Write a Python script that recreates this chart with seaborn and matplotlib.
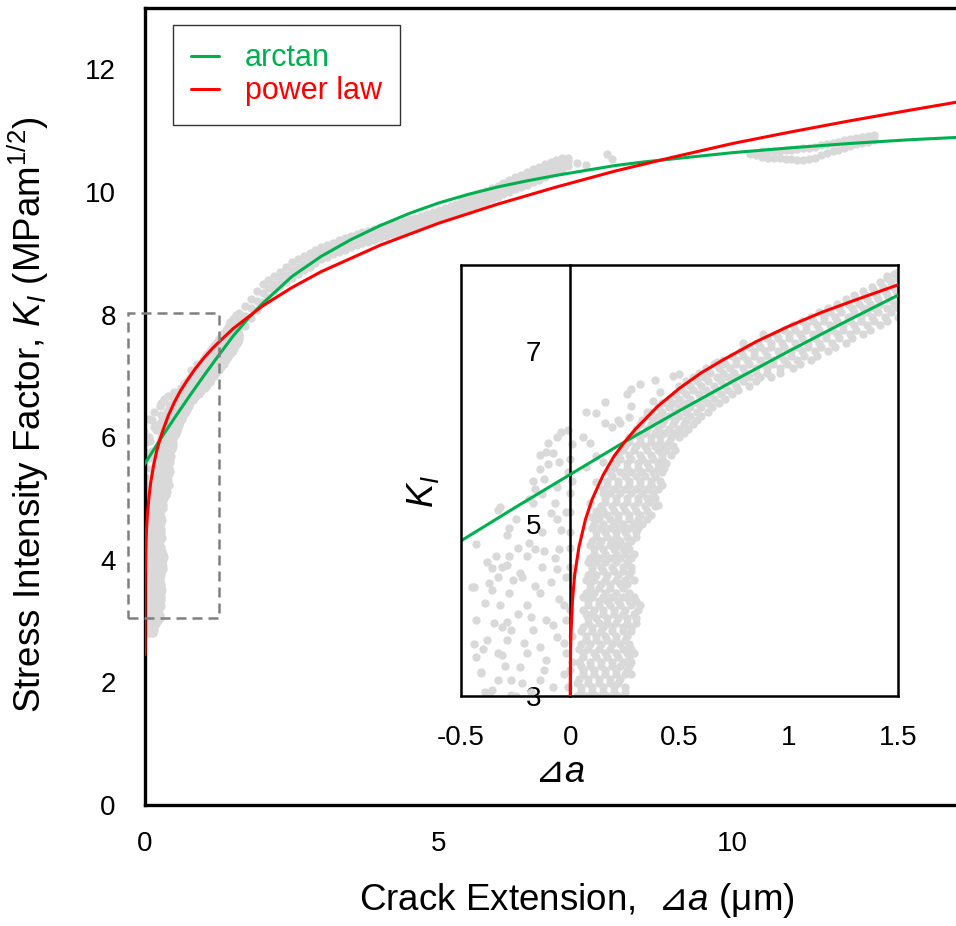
import matplotlib
matplotlib.use("Agg")
import matplotlib.pyplot as plt
import seaborn as sns
import pandas as pd
from matplotlib.patches import Rectangle
from matplotlib.ticker import FixedLocator

sns.set_theme(style="white")
plt.rcParams["font.family"] = ["Liberation Sans", "DejaVu Sans"]
plt.rcParams["mathtext.fontset"] = "custom"
plt.rcParams["mathtext.rm"] = "Liberation Sans"
plt.rcParams["mathtext.it"] = "Liberation Sans:italic"
plt.rcParams["mathtext.sf"] = "DejaVu Sans"
plt.rcParams["axes.unicode_minus"] = False
plt.rcParams["text.color"] = "black"
plt.rcParams["axes.labelcolor"] = "black"
plt.rcParams["xtick.color"] = "black"
plt.rcParams["ytick.color"] = "black"

# ---------------- data ----------------
# fitted curves
arctan_da = [-0.5, -0.25, 0, 0.25, 0.5, 0.75, 1.0, 1.25, 1.5, 1.75, 2.0, 2.5, 3.0, 3.5, 4.0,
             4.5, 5.0, 5.5, 6.0, 6.5, 7.0, 7.5, 8.0, 8.5, 9.0, 9.5, 10.0, 11.0, 12.0, 13.0, 13.85]
arctan_k = [4.80, 5.19, 5.57, 5.95, 6.31, 6.66, 7.00, 7.33, 7.65, 7.93, 8.18, 8.62, 8.95, 9.22, 9.45,
            9.65, 9.82, 9.96, 10.08, 10.18, 10.27, 10.35, 10.43, 10.49, 10.54, 10.59, 10.64, 10.72,
            10.79, 10.85, 10.89]

power_da = [0, 0.0002, 0.001, 0.003, 0.01, 0.02, 0.04, 0.07, 0.1, 0.15, 0.2, 0.25, 0.3, 0.4, 0.5,
            0.6, 0.7, 0.85, 1.0, 1.15, 1.3, 1.5, 2.0, 2.5, 3.0, 4.0, 5.0, 6.0, 7.0, 8.0, 9.0, 10.0,
            11.0, 12.0, 13.0, 13.85]
power_k = [2.45, 3.12, 3.42, 3.70, 4.10, 4.40, 4.73, 5.05, 5.28, 5.56, 5.78, 5.95, 6.10, 6.36, 6.57,
           6.75, 6.90, 7.11, 7.29, 7.45, 7.59, 7.77, 8.14, 8.44, 8.70, 9.13, 9.49, 9.80, 10.08, 10.34,
           10.57, 10.79, 10.98, 11.16, 11.33, 11.47]

# dense measured cloud just after crack initiation (rows of K levels)
cloud_k = [2.8, 2.9, 3.0, 3.1, 3.2, 3.3, 3.4, 3.5, 3.6, 3.7, 3.8, 3.9, 4.0, 4.1, 4.2, 4.3, 4.4, 4.5,
           4.6, 4.7, 4.8, 4.9, 5.0, 5.1, 5.2, 5.3, 5.4, 5.5, 5.6, 5.7, 5.8, 5.9, 6.0, 6.1, 6.2, 6.3,
           6.4, 6.5, 6.6, 6.7, 6.8, 6.9, 7.0, 7.1, 7.2, 7.3, 7.4, 7.5, 7.6, 7.7, 7.8, 7.9, 8.0]
cloud_da = [
    [0.03, 0.08, 0.13],
    [0.05, 0.10, 0.15],
    [0.03, 0.07, 0.12, 0.17, 0.22],
    [0.05, 0.10, 0.15, 0.20, 0.25],
    [0.04, 0.08, 0.13, 0.18, 0.23],
    [0.06, 0.11, 0.16, 0.21, 0.26],
    [0.04, 0.09, 0.14, 0.19, 0.24, 0.28],
    [0.06, 0.11, 0.16, 0.21, 0.26, 0.29],
    [0.05, 0.09, 0.14, 0.19, 0.23, 0.27],
    [0.07, 0.12, 0.16, 0.21, 0.26],
    [0.06, 0.10, 0.15, 0.19, 0.24, 0.28],
    [0.08, 0.12, 0.17, 0.22, 0.26, 0.30],
    [0.06, 0.11, 0.15, 0.20, 0.25, 0.31],
    [0.08, 0.13, 0.17, 0.22, 0.27, 0.30],
    [0.07, 0.11, 0.16, 0.21, 0.27],
    [0.09, 0.14, 0.18, 0.23, 0.26],
    [0.08, 0.12, 0.17, 0.22, 0.27],
    [0.10, 0.14, 0.19, 0.24, 0.28],
    [0.09, 0.13, 0.18, 0.23, 0.28],
    [0.11, 0.15, 0.20, 0.24, 0.27],
    [0.10, 0.14, 0.19, 0.23, 0.28],
    [0.12, 0.16, 0.21, 0.25, 0.30],
    [0.11, 0.15, 0.20, 0.24, 0.29, 0.33],
    [0.13, 0.17, 0.22, 0.27, 0.32, 0.37],
    [0.14, 0.19, 0.24, 0.29, 0.34, 0.39],
    [0.16, 0.21, 0.26, 0.31, 0.35, 0.39],
    [0.15, 0.20, 0.25, 0.30, 0.35, 0.40],
    [0.17, 0.22, 0.27, 0.32, 0.37, 0.41],
    [0.18, 0.23, 0.28, 0.33, 0.38, 0.42],
    [0.21, 0.26, 0.31, 0.35, 0.40, 0.44],
    [0.22, 0.27, 0.32, 0.37, 0.42, 0.46],
    [0.25, 0.30, 0.34, 0.39, 0.43, 0.47],
    [0.27, 0.32, 0.37, 0.41, 0.46, 0.50],
    [0.30, 0.35, 0.40, 0.45, 0.50, 0.54],
    [0.33, 0.38, 0.43, 0.48, 0.53, 0.58],
    [0.37, 0.42, 0.48, 0.53, 0.58, 0.63],
    [0.42, 0.47, 0.52, 0.58, 0.63, 0.68],
    [0.48, 0.53, 0.59, 0.64, 0.69, 0.74],
    [0.50, 0.55, 0.60, 0.66, 0.71, 0.76, 0.82],
    [0.56, 0.61, 0.67, 0.72, 0.77, 0.82, 0.87, 0.92],
    [0.62, 0.68, 0.73, 0.79, 0.85, 0.90, 0.96, 1.02],
    [0.70, 0.76, 0.81, 0.87, 0.93, 0.98, 1.04, 1.10],
    [0.78, 0.84, 0.89, 0.95, 1.01, 1.06, 1.12, 1.18],
    [0.86, 0.92, 0.97, 1.03, 1.09, 1.14, 1.20, 1.26],
    [0.94, 1.00, 1.05, 1.11, 1.17, 1.22, 1.28, 1.34],
    [1.02, 1.08, 1.13, 1.19, 1.25, 1.30, 1.36, 1.42],
    [1.10, 1.16, 1.21, 1.27, 1.33, 1.38, 1.44, 1.50],
    [1.18, 1.23, 1.29, 1.34, 1.39, 1.45, 1.50, 1.55],
    [1.26, 1.31, 1.36, 1.41, 1.46, 1.51, 1.56, 1.60],
    [1.34, 1.39, 1.44, 1.49, 1.54, 1.59],
    [1.42, 1.47, 1.52, 1.56, 1.60],
    [1.48, 1.53, 1.57, 1.61],
    [1.55, 1.60],
]

# second (staggered) set of rows in the same cloud
cloud2_k = [2.85, 2.95, 3.05, 3.15, 3.25, 3.35, 3.45, 3.55, 3.65, 3.75, 3.85, 3.95, 4.05, 4.15,
            4.25, 4.35, 4.45, 4.55, 4.65, 4.75, 4.85, 4.95, 5.05, 5.15, 5.25, 5.35, 5.45, 5.55,
            5.65, 5.75, 5.85, 5.95, 6.05, 6.15, 6.25, 6.35, 6.45, 6.55, 6.65, 6.75, 6.85, 6.95,
            7.05, 7.15, 7.25, 7.35, 7.45, 7.55, 7.65, 7.75, 7.85, 7.95]
cloud2_da = [
    [0.05, 0.10, 0.15],
    [0.04, 0.09, 0.14, 0.18],
    [0.05, 0.10, 0.15, 0.20, 0.25],
    [0.03, 0.08, 0.13, 0.18, 0.22],
    [0.06, 0.11, 0.16, 0.21, 0.25, 0.28],
    [0.05, 0.09, 0.14, 0.19, 0.23, 0.27],
    [0.06, 0.12, 0.17, 0.22, 0.27],
    [0.04, 0.08, 0.13, 0.18, 0.24, 0.28],
    [0.07, 0.12, 0.17, 0.21, 0.25],
    [0.05, 0.10, 0.14, 0.19, 0.24, 0.28],
    [0.08, 0.13, 0.17, 0.21, 0.26, 0.30],
    [0.07, 0.10, 0.15, 0.20, 0.24, 0.29],
    [0.08, 0.13, 0.18, 0.23, 0.28, 0.32],
    [0.06, 0.10, 0.15, 0.19, 0.24, 0.29],
    [0.09, 0.13, 0.18, 0.24],
    [0.07, 0.11, 0.16, 0.21, 0.25, 0.29],
    [0.10, 0.15, 0.20, 0.24, 0.28],
    [0.08, 0.12, 0.16, 0.21, 0.26],
    [0.11, 0.16, 0.21, 0.25, 0.29],
    [0.09, 0.13, 0.18, 0.22, 0.26],
    [0.12, 0.17, 0.21, 0.26, 0.30],
    [0.10, 0.14, 0.18, 0.23, 0.27, 0.31],
    [0.13, 0.18, 0.22, 0.27, 0.31, 0.35],
    [0.12, 0.15, 0.20, 0.25, 0.30, 0.35],
    [0.16, 0.21, 0.26, 0.31, 0.36],
    [0.15, 0.18, 0.23, 0.28, 0.33, 0.38],
    [0.17, 0.22, 0.27, 0.32, 0.37, 0.42],
    [0.19, 0.25, 0.30, 0.34, 0.39],
    [0.20, 0.26, 0.31, 0.36, 0.40, 0.43],
    [0.23, 0.28, 0.33, 0.38, 0.42],
    [0.24, 0.29, 0.35, 0.40, 0.44, 0.48],
    [0.27, 0.32, 0.37, 0.41, 0.45],
    [0.29, 0.34, 0.39, 0.43, 0.48, 0.52],
    [0.32, 0.37, 0.42, 0.47, 0.52, 0.56],
    [0.35, 0.40, 0.45, 0.50, 0.55, 0.60],
    [0.40, 0.45, 0.50, 0.55, 0.60, 0.65],
    [0.45, 0.50, 0.55, 0.61, 0.66, 0.71],
    [0.51, 0.56, 0.62, 0.67, 0.72, 0.77],
    [0.53, 0.58, 0.63, 0.69, 0.74, 0.79, 0.85],
    [0.59, 0.64, 0.70, 0.75, 0.80, 0.85, 0.90, 0.96],
    [0.66, 0.71, 0.76, 0.82, 0.88, 0.93, 0.99, 1.05],
    [0.74, 0.79, 0.84, 0.90, 0.96, 1.01, 1.07, 1.13],
    [0.82, 0.87, 0.92, 0.98, 1.04, 1.09, 1.15, 1.21],
    [0.90, 0.95, 1.00, 1.06, 1.12, 1.17, 1.23, 1.29],
    [0.98, 1.03, 1.08, 1.14, 1.20, 1.25, 1.31, 1.37],
    [1.06, 1.11, 1.16, 1.22, 1.28, 1.33, 1.39, 1.45],
    [1.14, 1.19, 1.24, 1.30, 1.36, 1.41, 1.47, 1.52],
    [1.22, 1.27, 1.32, 1.37, 1.42, 1.48, 1.53, 1.58],
    [1.30, 1.35, 1.40, 1.45, 1.50, 1.55, 1.60],
    [1.38, 1.43, 1.48, 1.53, 1.58],
    [1.45, 1.50, 1.55, 1.60],
    [1.52, 1.57],
]

# scattered points (negative apparent extension and outliers)
scatter_da = [-0.43, -0.44, -0.43, -0.43, -0.41, -0.37, -0.36, -0.33, -0.33, -0.31, -0.28, -0.28,
              -0.29, -0.31, -0.29, -0.33, -0.27, -0.27, -0.33, -0.36, -0.23, -0.20, -0.22, -0.20,
              -0.19, -0.25, -0.17, -0.16, -0.14, -0.11, -0.10, -0.06, -0.04, -0.01, -0.13, -0.13,
              -0.14, -0.11, -0.14, -0.11, -0.14, -0.08, -0.06, -0.05, -0.06, -0.05, -0.06, -0.06,
              -0.05, -0.02, -0.02, -0.02, -0.01, -0.02, -0.39, -0.38, -0.23, -0.17, -0.20, -0.25,
              -0.32, -0.28, -0.17, -0.14, -0.10, -0.13, -0.07, 0.00, 0.00, 0.00, -0.37, -0.27,
              -0.45, -0.41, -0.36, -0.29, -0.29, -0.31, 0.00, 0.01, -0.01, 0.00,
              -0.40, -0.35, -0.32, -0.38, -0.26, -0.24, -0.21, -0.18, -0.16, -0.12, -0.09, -0.08,
              -0.03, -0.04, -0.09, -0.12, -0.08, -0.19, -0.24, -0.34, -0.22, -0.12, -0.03, -0.18,
              -0.30, -0.39, -0.44, -0.16, -0.03, -0.07,
              0.01, 0.01, 0.00, 0.01, 0.00, 0.01, 0.00,
              0.16, 0.28, 0.32, 0.39, 0.41, 0.47, 0.50, 0.16, 0.19, 0.23, 0.28, 0.27, 0.07, 0.09,
              0.06, 0.38, 0.35, 0.67, 0.79, 0.88, 1.45, 1.50, 0.12, 0.09, 0.15, 0.12, 0.07, 0.10,
              0.40, 0.37, 0.12, 0.22, 0.26,
              7.35, 7.50, 7.86, 7.95, 4.21, 4.30, 10.40, 10.30]
scatter_k = [4.76, 4.26, 3.88, 3.45, 3.27, 4.31, 4.23, 4.38, 5.16, 4.50, 4.20, 4.62,
             4.87, 3.80, 3.65, 3.50, 3.77, 3.19, 3.19, 3.07, 3.34, 4.06, 4.38, 4.62,
             4.78, 5.05, 5.24, 5.40, 5.63, 5.83, 5.94, 6.01, 6.06, 6.09, 4.90, 4.50,
             4.20, 3.88, 3.57, 3.42, 3.19, 3.10, 3.69, 4.12, 4.47, 4.70, 5.05, 5.43,
             5.71, 5.13, 4.38, 3.50, 3.10, 3.88, 4.08, 3.65, 4.43, 3.77, 3.50, 3.00,
             5.19, 4.95, 5.49, 5.80, 5.69, 5.34, 5.24, 5.14, 4.72, 3.30, 3.01, 3.01,
             4.26, 3.28, 4.49, 4.52, 3.86, 3.48, 4.50, 5.92, 5.60, 5.35,
             3.55, 3.85, 4.05, 4.55, 4.35, 3.95, 3.62, 3.92, 4.28, 4.68, 4.32, 3.82,
             3.62, 4.92, 5.12, 5.52, 5.82, 5.28, 4.72, 4.62, 3.15, 3.30, 3.25, 3.05,
             3.35, 3.05, 3.60, 4.70, 4.05, 4.60,
             3.40, 3.70, 4.00, 4.40, 4.90, 5.50, 5.75,
             6.41, 6.56, 6.62, 6.67, 6.53, 6.71, 6.73, 6.17, 6.12, 6.17, 6.36, 6.24, 6.29, 5.94,
             6.01, 6.42, 6.29, 6.87, 7.10, 7.20, 7.87, 7.92, 5.48, 5.24, 5.71, 5.78, 5.66, 5.08,
             5.22, 5.45, 6.28, 6.20, 6.50,
             10.47, 10.44, 10.62, 10.54, 9.48, 9.31, 10.60, 10.62]

# main measured band for larger crack extension
band_da = [1.6, 1.7, 1.8, 1.9, 2.0, 2.1, 2.2, 2.3, 2.4, 2.5, 2.6, 2.7, 2.8, 2.9, 3.0, 3.1, 3.2, 3.3,
           3.4, 3.5, 3.6, 3.7, 3.8, 3.9, 4.0, 4.1, 4.2, 4.3, 4.4, 4.5, 4.6, 4.7, 4.8, 4.9, 5.0, 5.1,
           5.2, 5.3, 5.4, 5.5, 5.6, 5.7, 5.8, 5.9, 6.0, 6.1, 6.2, 6.3, 6.4, 6.5, 6.6, 6.7, 6.8, 6.9,
           7.0, 7.1, 7.2]
band_k_lo = [7.68, 7.81, 7.94, 8.07, 8.20, 8.29, 8.38, 8.46, 8.53, 8.60, 8.66, 8.72, 8.78, 8.84,
             8.90, 8.94, 8.98, 9.02, 9.06, 9.10, 9.13, 9.16, 9.19, 9.22, 9.25, 9.28, 9.31, 9.34,
             9.37, 9.40, 9.43, 9.46, 9.49, 9.52, 9.55, 9.59, 9.62, 9.66, 9.69, 9.73, 9.77, 9.81,
             9.84, 9.88, 9.92, 9.96, 10.00, 10.04, 10.08, 10.12, 10.16, 10.20, 10.25, 10.29,
             10.33, 10.38, 10.43]
band_k_mid = [7.85, 7.97, 8.10, 8.22, 8.35, 8.43, 8.50, 8.58, 8.65, 8.72, 8.78, 8.83, 8.89, 8.94,
              9.00, 9.04, 9.07, 9.11, 9.15, 9.19, 9.22, 9.25, 9.28, 9.31, 9.33, 9.36, 9.39, 9.42,
              9.45, 9.47, 9.50, 9.53, 9.56, 9.59, 9.62, 9.66, 9.69, 9.73, 9.77, 9.81, 9.85, 9.89,
              9.93, 9.97, 10.01, 10.05, 10.09, 10.14, 10.18, 10.22, 10.26, 10.30, 10.35, 10.39,
              10.42, 10.46, 10.50]
band_k_hi = [8.02, 8.14, 8.26, 8.38, 8.50, 8.57, 8.63, 8.70, 8.78, 8.85, 8.90, 8.95, 9.00, 9.05,
             9.10, 9.14, 9.17, 9.21, 9.25, 9.28, 9.31, 9.34, 9.37, 9.40, 9.42, 9.45, 9.48, 9.50,
             9.53, 9.55, 9.58, 9.61, 9.64, 9.67, 9.70, 9.73, 9.77, 9.80, 9.86, 9.90, 9.94, 9.98,
             10.02, 10.06, 10.10, 10.15, 10.19, 10.24, 10.28, 10.33, 10.37, 10.41, 10.45, 10.49,
             10.52, 10.55, 10.56]

# late measured band
late_da = [10.5, 10.6, 10.7, 10.8, 10.9, 11.0, 11.1, 11.2, 11.3, 11.4, 11.5, 11.6, 11.7, 11.8,
           11.9, 12.0, 12.1, 12.2, 12.3, 12.4]
late_k_lo = [10.57, 10.56, 10.55, 10.55, 10.54, 10.53, 10.52, 10.52, 10.53, 10.56, 10.60, 10.63,
             10.66, 10.69, 10.72, 10.75, 10.78, 10.80, 10.82, 10.85]
late_k_hi = [10.66, 10.66, 10.67, 10.67, 10.68, 10.69, 10.70, 10.71, 10.72, 10.74, 10.76, 10.78,
             10.80, 10.82, 10.84, 10.86, 10.88, 10.90, 10.91, 10.92]

# ---------------- assemble points ----------------
pts_da, pts_k = [], []
for levels, rows in ((cloud_k, cloud_da), (cloud2_k, cloud2_da)):
    for k, row in zip(levels, rows):
        pts_da += row
        pts_k += [k] * len(row)
pts_da += scatter_da
pts_k += scatter_k
for ks in (band_k_lo, band_k_mid, band_k_hi):
    pts_da += band_da
    pts_k += ks
for ks in (late_k_lo, late_k_hi):
    pts_da += late_da
    pts_k += ks
points = pd.DataFrame({"da": pts_da, "K": pts_k})
arctan_df = pd.DataFrame({"da": arctan_da, "K": arctan_k})
power_df = pd.DataFrame({"da": power_da, "K": power_k})

GRAY = "#d9d9d9"
GREEN = "#00b050"
RED = "#ff0000"
DOT = 36

fig = plt.figure(figsize=(9.56, 9.26), dpi=100)
fig.patch.set_facecolor("white")

# ---------------- main axes ----------------
ax = fig.add_axes([0.1517, 0.1307, 0.8483, 0.8607])
ax.set_facecolor("white")
sns.scatterplot(data=points, x="da", y="K", color=GRAY, s=DOT, linewidth=0, ax=ax,
                legend=False, zorder=1)
sns.lineplot(data=arctan_df, x="da", y="K", color=GREEN, lw=2.2, sort=False, estimator=None,
             ax=ax, label="arctan", zorder=3)
sns.lineplot(data=power_df, x="da", y="K", color=RED, lw=2.2, sort=False, estimator=None,
             ax=ax, label="power law", zorder=4)
ax.set_xlim(0, 13.8)
ax.set_ylim(0, 13)

ax.xaxis.set_major_locator(FixedLocator([0, 5, 10]))
ax.xaxis.set_minor_locator(FixedLocator([2.5, 7.5, 12.5]))
ax.yaxis.set_major_locator(FixedLocator([0, 2, 4, 6, 8, 10, 12]))
ax.yaxis.set_minor_locator(FixedLocator([1, 3, 5, 7, 9, 11]))
ax.tick_params(axis="both", which="both", direction="in", length=8, width=2, colors="black",
               labelsize=20)
ax.tick_params(axis="x", which="major", pad=19)
ax.tick_params(axis="y", which="major", pad=21)
for side in ("left", "bottom", "top"):
    ax.spines[side].set_visible(True)
    ax.spines[side].set_color("black")
    ax.spines[side].set_linewidth(2.4)
ax.spines["right"].set_visible(False)

ax.set_xlabel("Crack Extension,  $\\mathsf{\u22bf}a$ (\u03bcm)", fontsize=26.5, color="black")
ax.xaxis.set_label_coords(0.533, -0.095)
ax.set_ylabel("Stress Intensity Factor, $K_I$ (MPam$^{1/2}$)", fontsize=26.5, color="black")
ax.yaxis.set_label_coords(-0.116, 0.49)

leg = ax.legend(loc="upper left", bbox_to_anchor=(0.0345, 0.9787), borderaxespad=0,
                fontsize=22, frameon=True, fancybox=False, edgecolor="black",
                handlelength=0.92, handletextpad=0.82, borderpad=0.6, labelspacing=0.1)
leg.get_frame().set_linewidth(1.0)
for txt, line in zip(leg.get_texts(), leg.get_lines()):
    txt.set_color(line.get_color())

rect = Rectangle((-0.29, 3.05), 1.55, 4.97, fill=False, edgecolor="#808080", lw=1.8,
                 linestyle=(0, (4, 2.4)), clip_on=False, zorder=5)
ax.add_patch(rect)

# ---------------- inset axes ----------------
axi = fig.add_axes([0.4822, 0.2484, 0.4571, 0.4654])
axi.set_facecolor("white")
axi.set_zorder(10)
sns.scatterplot(data=points, x="da", y="K", color=GRAY, s=DOT, linewidth=0, ax=axi,
                legend=False, zorder=1)
sns.lineplot(data=arctan_df, x="da", y="K", color=GREEN, lw=2.2, sort=False, estimator=None,
             ax=axi, zorder=3)
sns.lineplot(data=power_df, x="da", y="K", color=RED, lw=2.2, sort=False, estimator=None,
             ax=axi, zorder=4)
axi.set_xlim(-0.5, 1.5)
axi.set_ylim(3, 8)
for side in ("left", "bottom", "top", "right"):
    axi.spines[side].set_visible(True)
    axi.spines[side].set_color("black")
    axi.spines[side].set_linewidth(1.8)
axi.spines["left"].set_position(("data", 0))
axi.axvline(-0.5, color="black", lw=1.8, clip_on=False, zorder=6)

axi.xaxis.set_major_locator(FixedLocator([-0.5, 0, 0.5, 1, 1.5]))
axi.xaxis.set_minor_locator(FixedLocator([0.25, 0.75, 1.25]))
axi.yaxis.set_major_locator(FixedLocator([3, 5, 7]))
axi.yaxis.set_minor_locator(FixedLocator([4, 6]))
axi.set_xticklabels(["-0.5", "0", "0.5", "1", "1.5"])
axi.tick_params(axis="both", which="both", direction="in", length=8, width=1.8,
                colors="black", labelsize=20)
axi.tick_params(axis="x", which="major", pad=21)
axi.tick_params(axis="y", which="major", pad=21)

axi.set_xlabel("$\\mathsf{\u22bf}a$", fontsize=26, color="black")
axi.xaxis.set_label_coords(0.2265, -0.137)
axi.set_ylabel("$K_I$", fontsize=26, color="black")
axi.yaxis.set_label_coords(-0.045, 0.475)

fig.savefig("out.png", dpi=100, facecolor="white")
